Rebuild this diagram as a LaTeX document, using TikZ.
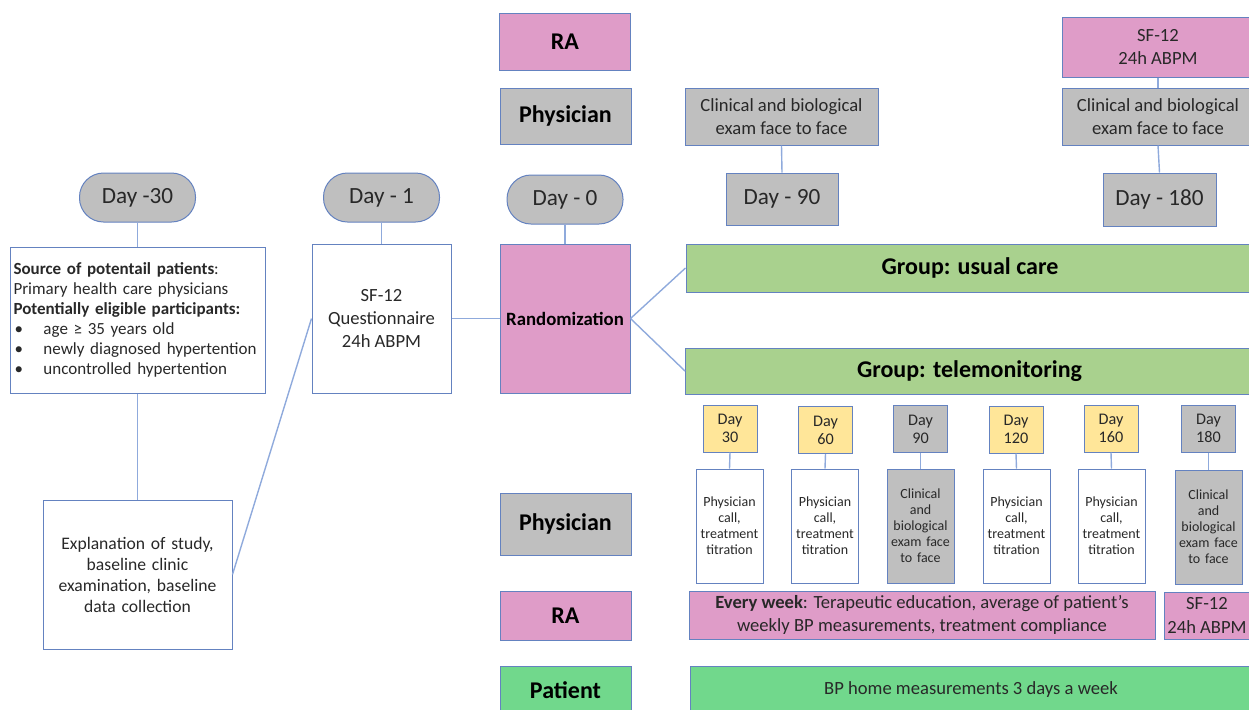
\documentclass[tikz,border=0pt]{standalone}
\usepackage{fontspec}
\setmainfont{Carlito}
\definecolor{rosa}{RGB}{223,156,200}
\definecolor{cinza}{RGB}{191,191,191}
\definecolor{verdeA}{RGB}{169,209,142}
\definecolor{verdeB}{RGB}{113,216,140}
\definecolor{amarelo}{RGB}{255,230,153}
\definecolor{borda}{RGB}{100,130,192}
\definecolor{linha}{RGB}{143,170,220}
\definecolor{texto}{RGB}{40,40,40}
\begin{document}
\begin{tikzpicture}[x=0.5pt, y=-0.5pt,
    caixa/.style={draw=borda, line width=0.5pt, inner sep=1pt, align=center, text=texto, font=\fontsize{9.3}{11.7}\selectfont},
    dia/.style={caixa, fill=cinza, rounded corners=12pt, minimum width=58pt, minimum height=24.5pt, font=\fontsize{11.6}{14}\selectfont},
    rotulo/.style={caixa, minimum width=65.5pt, text=black, font=\bfseries\fontsize{12}{14}\selectfont},
    grupo/.style={caixa, fill=verdeA, minimum width=284pt, text=black, font=\bfseries\fontsize{12}{14}\selectfont},
    diaP/.style={caixa, minimum width=27pt, minimum height=23.5pt, font=\fontsize{8.1}{9}\selectfont},
    acao/.style={caixa, minimum width=33.5pt, minimum height=57pt, text width=31.5pt, font=\fontsize{7}{8}\selectfont},
    liga/.style={draw=linha, line width=0.7pt}]
  \useasboundingbox (0,0) rectangle (1249,709);
  \clip (0,0) rectangle (1249,709);

  % Recrutamento
  \node[dia] (d30) at (137.5,197.5) {Day -30};
  \node[caixa, minimum width=127.5pt, minimum height=73pt, text width=124pt, inner sep=1.75pt, align=left, font=\fontsize{8.5}{10}\selectfont] (fonte) at (137.5,320)
    {\hyphenpenalty=10000
     \textbf{Source of potentail patients}:\\
     Primary health care physicians\\
     \textbf{Potentially eligible participants:}\\
     \makebox[15pt][l]{\hspace{0.5pt}•}age ≥ 35 years old\\
     \makebox[15pt][l]{\hspace{0.5pt}•}newly diagnosed hypertention\\
     \makebox[15pt][l]{\hspace{0.5pt}•}uncontrolled hypertention};
  \node[caixa, minimum width=94.5pt, minimum height=74.5pt, text width=88pt, font=\fontsize{8.8}{10.5}\selectfont] (explic) at (137.5,574.5)
    {Explanation of study,\\ baseline clinic\\ examination, baseline\\ data collection};

  % Dia -1 e dia 0
  \node[dia] (d1) at (381.5,197.5) {Day - 1};
  \node[caixa, minimum width=69.5pt, minimum height=74.5pt] (sf) at (381.5,318.5) {SF-12\\ Questionnaire\\ 24h ABPM};
  \node[dia] (d0) at (565,199.5) {Day - 0};
  \node[caixa, fill=rosa, minimum width=65pt, minimum height=74.5pt, text=black, font=\bfseries\fontsize{9.4}{11}\selectfont] (rand) at (565,318.5) {Randomization};

  % Papeis
  \node[rotulo, fill=rosa, minimum height=28.5pt] (raA) at (565,41.5) {RA};
  \node[rotulo, fill=cinza, minimum height=28pt] (medA) at (565.5,116) {Physician};
  \node[rotulo, fill=cinza, minimum height=31pt] (medB) at (565.5,524) {Physician};
  \node[rotulo, fill=rosa, minimum height=24.5pt] (raB) at (565.5,615.5) {RA};
  \node[rotulo, fill=verdeB, minimum height=24pt] (paciente) at (565.5,690) {Patient};

  % Cuidado usual
  \node[caixa, fill=cinza, minimum width=96.5pt, minimum height=28.5pt] (clin90) at (781.5,116.5) {Clinical and biological\\ exam face to face};
  \node[caixa, fill=cinza, minimum width=56pt, minimum height=26pt, font=\fontsize{11.6}{14}\selectfont] (dia90) at (782,199) {Day - 90};
  \node[caixa, fill=rosa, minimum width=96pt, minimum height=30pt] (sfA) at (1158,47) {SF-12\\ 24h ABPM};
  \node[caixa, fill=cinza, minimum width=96pt, minimum height=28.5pt] (clin180) at (1158,116.5) {Clinical and biological\\ exam face to face};
  \node[caixa, fill=cinza, minimum width=56.5pt, minimum height=26.5pt, font=\fontsize{11.6}{14}\selectfont] (dia180) at (1159.5,199.5) {Day - 180};

  % Grupos
  \node[grupo, minimum height=24pt] (usual) at (970,268) {Group: usual care};
  \node[grupo, minimum height=23pt] (tele) at (969.5,371) {Group: telemonitoring};

  % Telemonitoramento
  \node[diaP, fill=amarelo] (t30) at (730,428.5) {Day\\ 30};
  \node[diaP, fill=amarelo] (t60) at (825.5,430) {Day\\ 60};
  \node[diaP, fill=cinza] (t90) at (920.5,429) {Day\\ 90};
  \node[diaP, fill=amarelo] (t120) at (1016,429.5) {Day\\ 120};
  \node[diaP, fill=amarelo] (t160) at (1111,428.5) {Day\\ 160};
  \node[diaP, fill=cinza] (t180) at (1208.5,428.5) {Day\\ 180};

  \node[acao] (a30) at (729.5,526) {Physician\\ call,\\ treatment\\ titration};
  \node[acao] (a60) at (825,526) {Physician\\ call,\\ treatment\\ titration};
  \node[acao, fill=cinza] (a90) at (920.5,526) {Clinical\\ and\\ biological\\ exam face\\ to face};
  \node[acao] (a120) at (1016.5,526) {Physician\\ call,\\ treatment\\ titration};
  \node[acao] (a160) at (1111.5,526) {Physician\\ call,\\ treatment\\ titration};
  \node[acao, fill=cinza] (a180) at (1208.5,527) {Clinical\\ and\\ biological\\ exam face\\ to face};

  \node[caixa, fill=rosa, minimum width=233pt, minimum height=24pt] (semana) at (922,615)
    {\textbf{Every week}: Terapeutic education, average of patient’s\\ weekly BP measurements, treatment compliance};
  \node[caixa, fill=rosa, minimum width=43pt, minimum height=23.5pt] (sfB) at (1207,615.5) {SF-12\\ 24h ABPM};
  \node[caixa, fill=verdeB, minimum width=281pt, minimum height=24pt] (bp) at (971,690) {BP home measurements 3 days a week};

  % Ligacoes
  \draw[liga] (d30.south) -- (fonte.north);
  \draw[liga] (fonte.south) -- (explic.north);
  \draw[liga] (explic.east) -- (sf.west);
  \draw[liga] (d1.south) -- (sf.north);
  \draw[liga] (d0.south) -- (rand.north);
  \draw[liga] (sf.east) -- (rand.west);
  \draw[liga] (rand.east) -- (usual.west);
  \draw[liga] (rand.east) -- (tele.west);
  \draw[liga] (clin90.south) -- (dia90.north);
  \draw[liga] (sfA.south) -- (clin180.north);
  \draw[liga] (clin180.south) -- (dia180.north);
  \draw[liga] (t30.south) -- (a30.north);
  \draw[liga] (t60.south) -- (a60.north);
  \draw[liga] (t90.south) -- (a90.north);
  \draw[liga] (t120.south) -- (a120.north);
  \draw[liga] (t160.south) -- (a160.north);
  \draw[liga] (t180.south) -- (a180.north);
\end{tikzpicture}
\end{document}
